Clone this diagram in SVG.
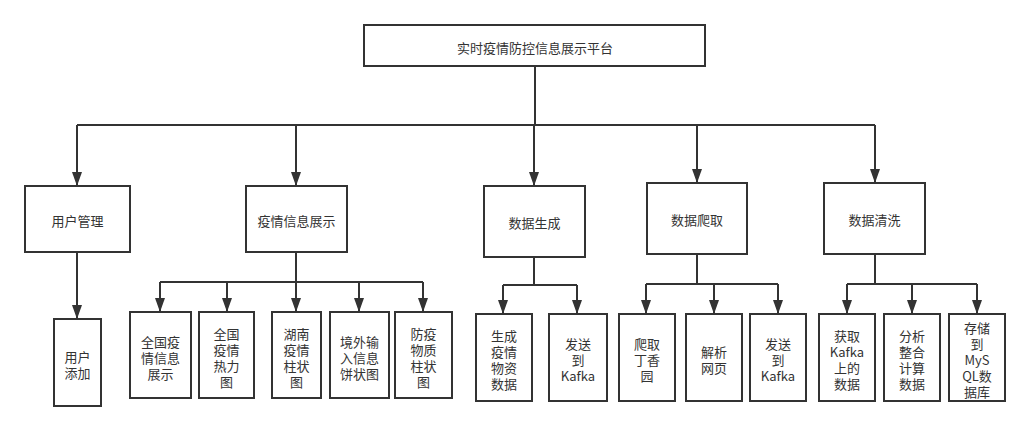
<svg xmlns="http://www.w3.org/2000/svg" width="1030" height="431" viewBox="0 0 1030 431">
<style>
.box{fill:#fff;stroke:#333;stroke-width:2}
.t{font-family:"Noto Sans CJK SC","Liberation Sans",sans-serif;font-size:13px;fill:#333;text-anchor:middle;dominant-baseline:central}
.c{fill:none;stroke:#333;stroke-width:2}
</style>
<defs>
<marker id="arr" viewBox="0 0 14 10" refX="14" refY="5" markerWidth="14" markerHeight="10" orient="auto" markerUnits="userSpaceOnUse">
<path d="M0,0 L14,5 L0,10 z" fill="#333"/>
</marker>
</defs>
<rect width="1030" height="431" fill="#fff"/>
<g id="connectors">
<path class="c" d="M535,66 V125 M77,125 H875"/>
<path class="c" d="M77,125 V186" marker-end="url(#arr)"/>
<path class="c" d="M296,125 V186" marker-end="url(#arr)"/>
<path class="c" d="M534,125 V186" marker-end="url(#arr)"/>
<path class="c" d="M697,125 V183" marker-end="url(#arr)"/>
<path class="c" d="M875,125 V183" marker-end="url(#arr)"/>
<path class="c" d="M77,252 V319" marker-end="url(#arr)"/>
<path class="c" d="M296,252 V282 M160,282 H423"/>
<path class="c" d="M160,282 V312" marker-end="url(#arr)"/>
<path class="c" d="M227,282 V312" marker-end="url(#arr)"/>
<path class="c" d="M296,282 V312" marker-end="url(#arr)"/>
<path class="c" d="M359,282 V312" marker-end="url(#arr)"/>
<path class="c" d="M423,282 V312" marker-end="url(#arr)"/>
<path class="c" d="M534,257 V285 M503,285 H577"/>
<path class="c" d="M503,285 V314" marker-end="url(#arr)"/>
<path class="c" d="M577,285 V314" marker-end="url(#arr)"/>
<path class="c" d="M697,254 V284 M646,284 H778"/>
<path class="c" d="M646,284 V314" marker-end="url(#arr)"/>
<path class="c" d="M714,284 V314" marker-end="url(#arr)"/>
<path class="c" d="M778,284 V314" marker-end="url(#arr)"/>
<path class="c" d="M875,254 V284 M847,284 H977"/>
<path class="c" d="M847,284 V314" marker-end="url(#arr)"/>
<path class="c" d="M912,284 V314" marker-end="url(#arr)"/>
<path class="c" d="M977,284 V314" marker-end="url(#arr)"/>
</g>
<g id="root"><rect class="box" x="364" y="25" width="341" height="41"/><text class="t" x="535" y="47">实时疫情防控信息展示平台</text></g>
<g id="user-mgmt"><rect class="box" x="25" y="186" width="105" height="66"/><text class="t" x="77.5" y="220">用户管理</text></g>
<g id="epidemic-info"><rect class="box" x="246" y="186" width="101" height="66"/><text class="t" x="296.5" y="220">疫情信息展示</text></g>
<g id="data-gen"><rect class="box" x="484" y="186" width="101" height="71"/><text class="t" x="534.5" y="222.5">数据生成</text></g>
<g id="data-crawl"><rect class="box" x="647" y="183" width="100" height="71"/><text class="t" x="697" y="219.5">数据爬取</text></g>
<g id="data-clean"><rect class="box" x="824" y="183" width="101" height="71"/><text class="t" x="874.5" y="219.5">数据清洗</text></g>
<g id="user-add"><rect class="box" x="54" y="319" width="47" height="87"/><text class="t"><tspan x="77.5" y="356">用户</tspan><tspan x="77.5" y="372">添加</tspan></text></g>
<g id="national-info"><rect class="box" x="130" y="312" width="61" height="86"/><text class="t"><tspan x="160.5" y="340.5">全国疫</tspan><tspan x="160.5" y="356.5">情信息</tspan><tspan x="160.5" y="372.5">展示</tspan></text></g>
<g id="national-heat"><rect class="box" x="199" y="312" width="55" height="86"/><text class="t"><tspan x="226.5" y="332.5">全国</tspan><tspan x="226.5" y="348.5">疫情</tspan><tspan x="226.5" y="364.5">热力</tspan><tspan x="226.5" y="380.5">图</tspan></text></g>
<g id="hunan-bar"><rect class="box" x="272" y="312" width="49" height="86"/><text class="t"><tspan x="296.5" y="332.5">湖南</tspan><tspan x="296.5" y="348.5">疫情</tspan><tspan x="296.5" y="364.5">柱状</tspan><tspan x="296.5" y="380.5">图</tspan></text></g>
<g id="import-pie"><rect class="box" x="330" y="312" width="59" height="86"/><text class="t"><tspan x="359.5" y="340.5">境外输</tspan><tspan x="359.5" y="356.5">入信息</tspan><tspan x="359.5" y="372.5">饼状图</tspan></text></g>
<g id="supplies-bar"><rect class="box" x="395" y="312" width="57" height="86"/><text class="t"><tspan x="423.5" y="332.5">防疫</tspan><tspan x="423.5" y="348.5">物质</tspan><tspan x="423.5" y="364.5">柱状</tspan><tspan x="423.5" y="380.5">图</tspan></text></g>
<g id="gen-supplies"><rect class="box" x="476" y="314" width="56" height="87"/><text class="t"><tspan x="504" y="335">生成</tspan><tspan x="504" y="351">疫情</tspan><tspan x="504" y="367">物资</tspan><tspan x="504" y="383">数据</tspan></text></g>
<g id="send-kafka-1"><rect class="box" x="549" y="314" width="58" height="87"/><text class="t"><tspan x="578" y="343">发送</tspan><tspan x="578" y="359">到</tspan><tspan x="578" y="375">Kafka</tspan></text></g>
<g id="crawl-dxy"><rect class="box" x="619" y="314" width="56" height="87"/><text class="t"><tspan x="647" y="343">爬取</tspan><tspan x="647" y="359">丁香</tspan><tspan x="647" y="375">园</tspan></text></g>
<g id="parse-page"><rect class="box" x="686" y="314" width="56" height="87"/><text class="t"><tspan x="714" y="351">解析</tspan><tspan x="714" y="367">网页</tspan></text></g>
<g id="send-kafka-2"><rect class="box" x="750" y="314" width="56" height="87"/><text class="t"><tspan x="778" y="343">发送</tspan><tspan x="778" y="359">到</tspan><tspan x="778" y="375">Kafka</tspan></text></g>
<g id="get-kafka"><rect class="box" x="819" y="314" width="56" height="87"/><text class="t"><tspan x="847" y="335">获取</tspan><tspan x="847" y="351">Kafka</tspan><tspan x="847" y="367">上的</tspan><tspan x="847" y="383">数据</tspan></text></g>
<g id="analyze"><rect class="box" x="884" y="314" width="56" height="87"/><text class="t"><tspan x="912" y="335">分析</tspan><tspan x="912" y="351">整合</tspan><tspan x="912" y="367">计算</tspan><tspan x="912" y="383">数据</tspan></text></g>
<g id="store-mysql"><rect class="box" x="949" y="314" width="56" height="87"/><text class="t"><tspan x="977" y="327">存储</tspan><tspan x="977" y="343">到</tspan><tspan x="977" y="359">MyS</tspan><tspan x="977" y="375">QL数</tspan><tspan x="977" y="391">据库</tspan></text></g>
</svg>
